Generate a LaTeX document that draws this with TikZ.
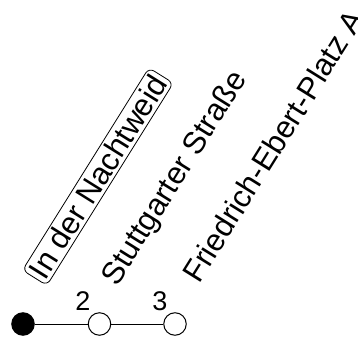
\documentclass[tikz,border=0pt]{standalone}
\usepackage{fontspec}
\setmainfont{Liberation Sans}
\begin{document}
\begin{tikzpicture}[x=1pt,y=1pt,
  stn/.style={circle,draw=black,line width=1pt,fill=white,minimum size=22.5pt,inner sep=0pt},
  stnfill/.style={stn,fill=black},
  num/.style={inner sep=0pt,font=\fontsize{27}{27}\selectfont},
  lbl/.style={rotate=58,font=\fontsize{31}{31}\selectfont},
  conn/.style={line width=1pt}]
\useasboundingbox (0,0) rectangle (358,340);
\node[stnfill] (s1) at (23,16) {};
\node[stn] (s2) at (99.5,16) {};
\node[stn] (s3) at (175,16) {};
\draw[conn] (s1) -- (s2);
\draw[conn] (s2) -- (s3);
\node[num] (n2) at (83,39) {2};
\node[num] (n3) at (160,39) {3};
\node[lbl,draw,line width=0.8pt,rounded corners=6pt,anchor=south west,inner sep=3pt] (l1) at (47,54) {In der Nachtweid};
\node[lbl,anchor=base west,inner sep=0pt] (l2) at (117,52.5) {Stuttgarter Straße};
\node[lbl,anchor=base west,inner sep=0pt] (l3) at (199,55) {Friedrich-Ebert-Platz A};
\end{tikzpicture}
\end{document}
